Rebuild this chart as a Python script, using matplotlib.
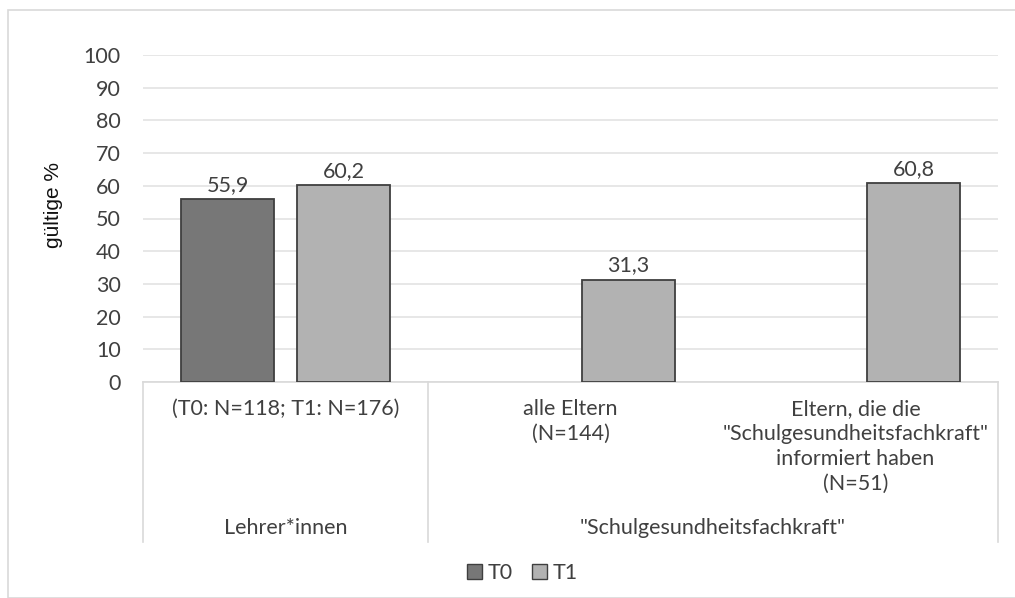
import matplotlib
matplotlib.use("Agg")
import matplotlib.pyplot as plt
import matplotlib.transforms as mtransforms
from matplotlib.patches import Patch, Rectangle

plt.rcParams['font.family'] = ['Lato', 'DejaVu Sans']

# data
categories = ['(T0: N=118; T1: N=176)',
              'alle Eltern\n(N=144)',
              'Eltern, die die\n"Schulgesundheitsfachkraft"\ninformiert haben\n(N=51)']
groups = ['Lehrer*innen', '"Schulgesundheitsfachkraft"']
group_spans = [(0, 0), (1, 2)]
t0_values = [55.9, None, None]
t1_values = [60.2, 31.3, 60.8]
series_names = ['T0', 'T1']
y_ticks = list(range(0, 101, 10))

c_t0 = '#777777'
c_t1 = '#b2b2b2'
edge = '#3f3f3f'
txt = '#404040'
fs = 15.5

fig = plt.figure(figsize=(10.15, 5.98), dpi=100)
fig.patches.append(Rectangle((8 / 1015, 0), 1.0, 1 - 10 / 598, transform=fig.transFigure,
                             fill=False, edgecolor='#d9d9d9', linewidth=1.2))
ax = fig.add_axes([143 / 1015, 1 - 382 / 598, (998 - 143) / 1015, (382 - 55) / 598])

w = 0.326
off = 0.2035
x = list(range(len(categories)))
for i, v in enumerate(t0_values):
    if v is not None:
        ax.bar(x[i] - off, v, w, color=c_t0, edgecolor=edge, linewidth=1.3, zorder=3)
        ax.annotate(f'{v:.1f}'.replace('.', ','), (x[i] - off, v), xytext=(0, 3),
                    textcoords='offset points', ha='center', va='bottom', fontsize=fs, color=txt)
for i, v in enumerate(t1_values):
    ax.bar(x[i] + off, v, w, color=c_t1, edgecolor=edge, linewidth=1.3, zorder=3)
    ax.annotate(f'{v:.1f}'.replace('.', ','), (x[i] + off, v), xytext=(0, 3),
                textcoords='offset points', ha='center', va='bottom', fontsize=fs, color=txt)

ax.set_xlim(-0.5, 2.5)
ax.set_ylim(0, 100)
ax.set_yticks(y_ticks)
ax.set_yticklabels([str(t) for t in y_ticks], fontsize=fs, color=txt)
ax.tick_params(axis='y', length=0, pad=16)
ax.set_xticks([])
ax.grid(axis='y', color='#e3e3e3', linewidth=1.2, zorder=0)
for s in ['top', 'right', 'left']:
    ax.spines[s].set_visible(False)
ax.spines['bottom'].set_color('#d9d9d9')
ax.spines['bottom'].set_linewidth(1.2)
ax.set_ylabel('gültige %', fontsize=15, color='#111111',
              family=['Liberation Sans Narrow', 'Liberation Sans', 'DejaVu Sans'])
ax.yaxis.set_label_coords((63 - 143) / 855, (382 - 205) / 327)

# multi-level category axis
trans = mtransforms.blended_transform_factory(ax.transData, ax.transAxes)
line_bottom = -(542 - 382) / 327
for xv in [-0.5, 0.5, 2.5]:
    ax.plot([xv, xv], [0, line_bottom], transform=trans, clip_on=False,
            color='#d9d9d9', linewidth=1.2)
for i, lab in enumerate(categories):
    ax.text(x[i], -(399 - 382) / 327, lab, transform=trans, ha='center', va='top',
            fontsize=fs, color=txt, linespacing=1.3)
for g, (a, b) in zip(groups, group_spans):
    ax.text((a + b) / 2, -(528 - 382) / 327, g, transform=trans, ha='center', va='center',
            fontsize=fs, color=txt)

handles = [Patch(facecolor=c_t0, edgecolor=edge, label=series_names[0]),
           Patch(facecolor=c_t1, edgecolor=edge, label=series_names[1])]
fig.legend(handles=handles, loc='center', bbox_to_anchor=(522 / 1015, 1 - 573 / 598),
           ncol=2, frameon=False, fontsize=fs, handlelength=0.7, handleheight=0.7,
           handletextpad=0.25, columnspacing=0.9, labelcolor=txt)

fig.savefig('out.png', dpi=100)
